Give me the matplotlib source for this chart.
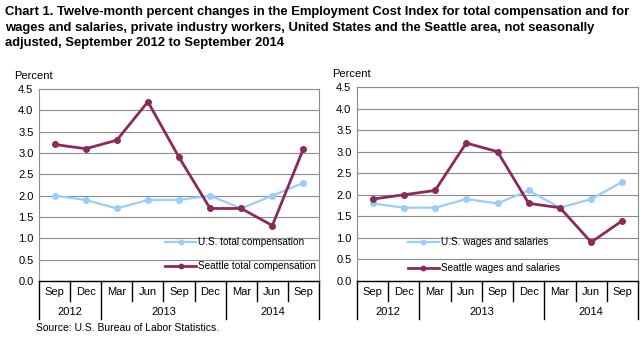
import matplotlib
matplotlib.use("Agg")
import matplotlib.pyplot as plt
from matplotlib.transforms import blended_transform_factory

plt.rcParams["font.family"] = ["Liberation Sans", "DejaVu Sans"]

months = ["Sep", "Dec", "Mar", "Jun", "Sep", "Dec", "Mar", "Jun", "Sep"]
years = ["2012", "2013", "2014"]
year_spans = [(-0.5, 1.5), (1.5, 5.5), (5.5, 8.5)]

us_total = [2.0, 1.9, 1.7, 1.9, 1.9, 2.0, 1.7, 2.0, 2.3]
seattle_total = [3.2, 3.1, 3.3, 4.2, 2.9, 1.7, 1.7, 1.3, 3.1]
us_wages = [1.8, 1.7, 1.7, 1.9, 1.8, 2.1, 1.7, 1.9, 2.3]
seattle_wages = [1.9, 2.0, 2.1, 3.2, 3.0, 1.8, 1.7, 0.9, 1.4]

US_COLOR = "#99ccff"
SEA_COLOR = "#8b2a5a"

W, H = 644, 337
fig = plt.figure(figsize=(W / 100, H / 100), dpi=100)


def px_axes(x0, x1, ytop, ybot):
    return fig.add_axes([x0 / W, 1 - ybot / H, (x1 - x0) / W, (ybot - ytop) / H])


def draw_panel(ax, us, sea, us_label, sea_label, legend_anchor, labelspacing):
    x = list(range(len(months)))
    ax.plot(x, us, color=US_COLOR, lw=1.6, marker="o", ms=4, label=us_label, zorder=3)
    ax.plot(x, sea, color=SEA_COLOR, lw=2.0, marker="o", ms=4, label=sea_label, zorder=4)
    ax.set_xlim(-0.5, len(months) - 0.5)
    ax.set_ylim(0, 4.5)
    ax.set_yticks([i * 0.5 for i in range(10)])
    ax.set_yticklabels([f"{i * 0.5:.1f}" for i in range(10)], fontsize=8)
    ax.set_xticks([])
    ax.tick_params(axis="y", length=0, pad=4)
    ax.grid(axis="y", color="#8c8c8c", lw=0.8)
    ax.set_axisbelow(True)
    for s in ["left", "right", "top"]:
        ax.spines[s].set_color("#8c8c8c")
        ax.spines[s].set_linewidth(0.8)
    ax.spines["bottom"].set_color("black")
    ax.spines["bottom"].set_linewidth(1.0)

    # category axis: months, years and separators below the plot
    tr = blended_transform_factory(ax.transData, ax.transAxes)
    axh = ax.get_position().height * H
    short = -20 / axh
    tall = -38 / axh
    for i, m in enumerate(months):
        ax.text(i, -11 / axh, m, transform=tr, ha="center", va="center", fontsize=8)
    edges = [i - 0.5 for i in range(len(months) + 1)]
    year_edges = set(e for span in year_spans for e in span)
    for e in edges:
        y1 = tall if e in year_edges else short
        ax.plot([e, e], [0, y1], transform=tr, color="black", lw=1.0, clip_on=False)
    for label, (a, b) in zip(years, year_spans):
        ax.text((a + b) / 2, -31 / axh, label, transform=tr, ha="center", va="center", fontsize=8)

    ax.text(-0.09, 1.04, "Percent", transform=ax.transAxes, fontsize=8, ha="left", va="bottom")
    ax.legend(loc="lower left", bbox_to_anchor=legend_anchor, frameon=False, fontsize=7.2,
              handlelength=3.1, handletextpad=0.2, labelspacing=labelspacing, borderpad=0,
              borderaxespad=0, markerscale=0.8)


ax1 = px_axes(39, 319, 89, 281)
draw_panel(ax1, us_total, seattle_total, "U.S. total compensation",
           "Seattle total compensation", (0.45, 0.05), 1.4)

ax2 = px_axes(357, 638, 87, 281)
draw_panel(ax2, us_wages, seattle_wages, "U.S. wages and salaries",
           "Seattle wages and salaries", (0.18, 0.04), 1.6)

fig.text(5 / W, 1 - 6 / H,
         "Chart 1. Twelve-month percent changes in the Employment Cost Index for total compensation and for\n"
         "wages and salaries, private industry workers, United States and the Seattle area, not seasonally\n"
         "adjusted, September 2012 to September 2014",
         fontsize=9.4, fontweight="bold", ha="left", va="top", linespacing=1.4)

fig.text(36 / W, 1 - 328 / H, "Source: U.S. Bureau of Labor Statistics.", fontsize=7.5,
         ha="left", va="center")

fig.savefig("out.png", dpi=100)
